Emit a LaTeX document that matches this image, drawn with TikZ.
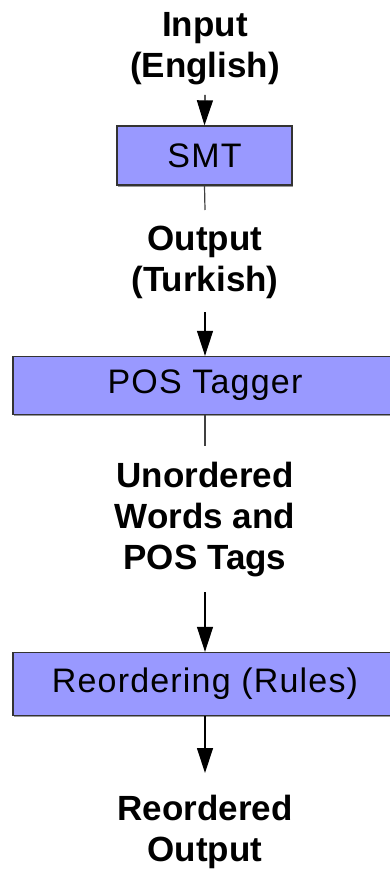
\documentclass[tikz,border=0pt]{standalone}
\usepackage{fontspec}
\setmainfont{Liberation Sans}
\newfontfamily\boxfont[LetterSpace=3.5]{Liberation Sans}
\usetikzlibrary{arrows.meta,shadows}
\definecolor{boxblue}{HTML}{9999FF}
\definecolor{boxedge}{HTML}{333333}
\tikzset{
  lbl/.style={anchor=north, inner sep=0pt, align=center,
    font={\bfseries\fontsize{35}{41}\selectfont}},
  procbox/.style={draw=boxedge, line width=1.3pt, fill=boxblue,
    font={\boxfont\fontsize{34}{40}\selectfont},
    drop shadow={shadow xshift=0.8pt, shadow yshift=-1.6pt, fill=black!40, opacity=1}},
  arr/.style={line width=1.2pt, -{Triangle[width=16pt,length=25pt]}},
  plain/.style={line width=1.2pt, draw=black!75}
}
\begin{document}
\begin{tikzpicture}[x=1pt,y=-1pt]
\useasboundingbox (0,0) rectangle (389,869);
% labels
\node[lbl] (in)  at (205,12)  {Input\\(English)};
\node[lbl] (out) at (205,226) {Output\\(Turkish)};
\node[lbl] (un)  at (205,462) {Unordered\\Words and\\POS Tags};
\node[lbl] (res) at (205,795) {Reordered\\Output};
% boxes
\node[procbox, minimum width=175pt, minimum height=59pt] (smt) at (204.5,155.5) {SMT};
\node[procbox, minimum width=400pt, minimum height=58pt] (pos) at (213,385.5) {\hspace*{-16pt}POS Tagger};
\node[procbox, minimum width=400pt, minimum height=63pt] (reo) at (213,684) {\hspace*{-16pt}Reordering (Rules)};
% connectors
\draw[arr] ([yshift=-10pt]in.south) -- (smt.north);
\draw[plain] (smt.south) -- ([yshift=16pt]out.north);
\draw[arr] ([yshift=-13pt]out.south) -- (out.south |- pos.north);
\draw[plain] (out.south |- pos.south) -- ([yshift=16pt]un.north);
\draw[arr] ([yshift=-15pt]un.south) -- (un.south |- reo.north);
\draw[arr] (res.north |- reo.south) -- ([yshift=22pt]res.north);
\end{tikzpicture}
\end{document}
